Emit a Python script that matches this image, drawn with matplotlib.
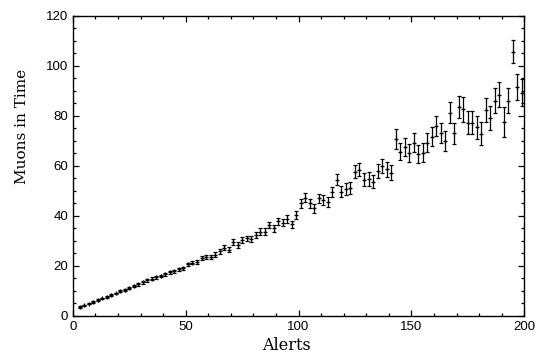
import numpy as np
import matplotlib
matplotlib.use('Agg')
import matplotlib.pyplot as plt
from matplotlib.ticker import MultipleLocator

# alerts (bin centres) and muon counts
alerts = list(range(3, 200, 2))
muons = [3.5, 4.2, 4.9, 5.6, 6.3, 7.0, 7.6, 8.4, 9.0, 9.8,
         10.5, 11.2, 12.0, 12.6, 13.4, 14.2, 14.9, 15.4, 16.0, 16.6,
         17.4, 17.9, 18.6, 19.1, 20.6, 21.3, 21.5, 23.3, 23.4, 23.6,
         24.5, 25.8, 27.2, 26.4, 29.6, 28.4, 30.4, 31.0, 30.6, 32.4,
         33.7, 33.7, 36.4, 35.0, 37.8, 37.3, 38.8, 36.6, 40.4, 45.0,
         47.3, 45.0, 43.0, 47.0, 46.4, 45.7, 49.5, 54.4, 49.7, 50.7,
         51.0, 57.7, 58.5, 54.5, 54.7, 53.7, 58.0, 60.0, 58.7, 57.3,
         70.7, 65.7, 67.7, 65.3, 69.3, 64.8, 65.3, 69.3, 71.7, 76.0,
         73.2, 70.0, 81.3, 73.0, 83.7, 82.7, 77.3, 77.3, 75.5, 72.8,
         82.4, 79.1, 86.0, 88.4, 77.7, 86.1, 105.7, 91.5, 89.3]
errors = [0.3, 0.3, 0.3, 0.3, 0.3, 0.3, 0.35, 0.35, 0.35, 0.4,
          0.4, 0.4, 0.45, 0.45, 0.45, 0.5, 0.5, 0.5, 0.55, 0.55,
          0.6, 0.6, 0.65, 0.65, 0.7, 0.7, 0.75, 0.75, 0.8, 0.85,
          0.9, 0.9, 1.0, 1.0, 1.05, 1.1, 1.1, 1.15, 1.2, 1.25,
          1.3, 1.3, 1.35, 1.4, 1.45, 1.5, 1.5, 1.55, 1.6, 1.7,
          1.8, 1.8, 1.9, 1.9, 2.0, 2.0, 2.1, 2.2, 2.2, 2.3,
          2.4, 2.5, 2.5, 2.6, 2.7, 2.7, 2.8, 2.9, 3.0, 3.0,
          4.0, 3.5, 3.6, 3.6, 3.7, 3.7, 3.8, 3.9, 3.9, 4.0,
          4.0, 4.1, 4.3, 4.2, 4.4, 5.0, 4.5, 4.5, 4.6, 4.6,
          4.7, 4.8, 5.0, 5.0, 6.0, 5.0, 4.7, 5.2, 5.3]

fig = plt.figure(figsize=(5.36, 3.61), dpi=100)
ax = fig.add_axes([0.136, 0.125, 0.842, 0.831])

ax.errorbar(alerts, muons, yerr=errors, fmt='+', color='black',
            ms=3, mew=0.9, elinewidth=0.9, capsize=1.6, capthick=0.9)

ax.set_xlim(0, 200)
ax.set_ylim(0, 120)
ax.xaxis.set_major_locator(MultipleLocator(50))
ax.xaxis.set_minor_locator(MultipleLocator(10))
ax.yaxis.set_major_locator(MultipleLocator(20))
ax.yaxis.set_minor_locator(MultipleLocator(5))
ax.tick_params(which='both', direction='in', top=True, right=True,
               width=0.9, labelsize=9.5)
ax.tick_params(which='major', length=4)
ax.tick_params(which='minor', length=2)
for lab in ax.get_xticklabels() + ax.get_yticklabels():
    lab.set_family('Liberation Sans')
for sp in ax.spines.values():
    sp.set_linewidth(1.0)

# labels sit a bit off-centre in the original
ax.set_xlabel('Alerts', family='DejaVu Serif', fontsize=11.5)
ax.set_ylabel('Muons in Time', family='DejaVu Serif', fontsize=11)
ax.xaxis.set_label_coords(0.474, -0.07)
ax.yaxis.set_label_coords(-0.097, 0.63)

fig.savefig('out.png', dpi=100)
